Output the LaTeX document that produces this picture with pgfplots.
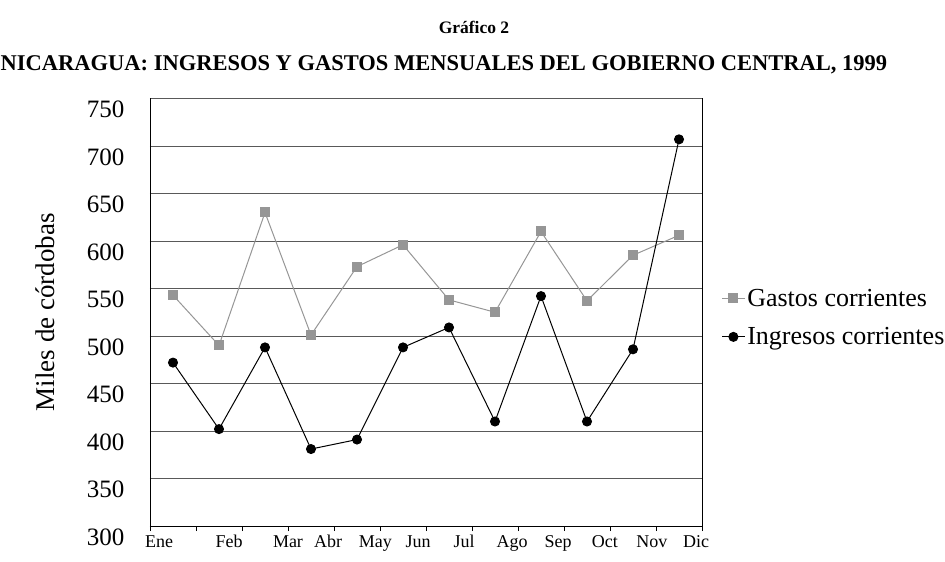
\documentclass[border=0pt]{standalone}
\usepackage{pgfplots}
\pgfplotsset{compat=1.18}
\usepackage{fontspec}
\setmainfont{Liberation Serif}
\pgfplotstableread{
x gastos ingresos
0.5 543 472
1.5 490 402
2.5 630 488
3.5 501 381
4.5 573 391
5.5 596 488
6.5 538 509
7.5 525 410
8.5 610 542
9.5 537 410
10.5 585 486
11.5 606 707
}\datatable
\definecolor{gser}{RGB}{150,150,150}
\begin{document}
\begin{tikzpicture}[x=1pt,y=1pt]
\path[use as bounding box] (-150,-36) rectangle (795,526);
\begin{axis}[
  at={(0,0)}, anchor=south west,
  scale only axis, width=552pt, height=427.5pt,
  xmin=0, xmax=12, ymin=300, ymax=750,
  axis x line=bottom, axis y line=left,
  axis line style={-, black, line width=0.8pt},
  xtick={0,...,12}, xticklabels={},
  tick align=outside,
  x tick style={black, line width=0.6pt},
  major tick length=5pt,
  extra x ticks={0.2,1.72,3.0,3.87,4.9,5.83,6.83,7.87,8.87,9.89,10.91,11.87},
  extra x tick labels={Ene,Feb,Mar,Abr,May,Jun,Jul,Ago,Sep,Oct,Nov,Dic},
  extra x tick style={major tick length=0pt, grid=none},
  ytick={300,350,...,750},
  y tick style={draw=none},
  ymajorgrids,
  major grid style={black!65, line width=0.8pt},
  yticklabel style={font=\fontsize{25}{29}\selectfont, xshift=-17pt, yshift=-11pt},
  xticklabel style={font=\fontsize{18}{21}\selectfont, text height=13pt, text depth=4pt, anchor=north, yshift=-5pt},
  /pgf/number format/assume math mode=true,
  ylabel={Miles de córdobas},
  every axis y label/.style={at={(axis description cs:-0.19,0.5)}, rotate=90, anchor=center, font=\fontsize{27}{31}\selectfont},
  legend style={at={(1.035,0.56)}, anchor=north west, draw=none, fill=none,
    font=\fontsize{26}{30}\selectfont, row sep=16pt, inner sep=0pt},
  legend cell align=left,
  legend image code/.code={\draw[mark repeat=2,mark phase=2,#1] plot coordinates {(0cm,0cm) (0.4cm,0cm) (0.8cm,0cm)};},
  clip=false,
]
\addplot[gser, line width=1pt, mark=square*, mark size=4.5pt, mark options={solid, fill=gser, draw=gser}] table[x=x, y=gastos] {\datatable};
\addlegendentry{Gastos corrientes}
\addplot[black, line width=1pt, mark=*, mark size=4.5pt, mark options={solid, fill=black}] table[x=x, y=ingresos] {\datatable};
\addlegendentry{Ingresos corrientes}
\draw[black, line width=0.8pt] (axis cs:12,300) -- (axis cs:12,750);
\end{axis}
\node[font=\bfseries\fontsize{17.5}{21}\selectfont] at (324,499) {Gráfico 2};
\node[font=\bfseries\fontsize{22.5}{26}\selectfont] at (294,461) {NICARAGUA: INGRESOS Y GASTOS MENSUALES DEL GOBIERNO CENTRAL, 1999};
\end{tikzpicture}
\end{document}
